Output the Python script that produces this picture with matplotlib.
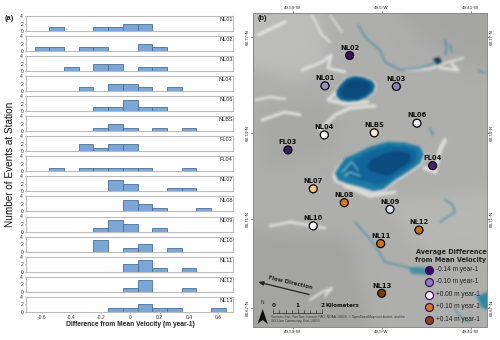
import numpy as np
import matplotlib
matplotlib.use('Agg')
import matplotlib.pyplot as plt
from matplotlib.patches import Polygon

plt.rcParams['font.family'] = ['Liberation Sans', 'DejaVu Sans']

W, H = 500, 340

# histogram data: station -> {bin centre: number of events}
stations_hist = ['NL01', 'NL02', 'NL03', 'NL04', 'NL06', 'NLBS', 'FL03', 'FL04',
                 'NL07', 'NL08', 'NL09', 'NL10', 'NL11', 'NL12', 'NL13']
bins = [-0.6, -0.5, -0.4, -0.3, -0.2, -0.1, 0.0, 0.1, 0.2, 0.3, 0.4, 0.5, 0.6]
nl01 = [0, 1, 0, 0, 1, 1, 2, 2, 0, 0, 0, 0, 0]
nl02 = [1, 1, 0, 1, 1, 0, 0, 2, 1, 0, 0, 0, 0]
nl03 = [0, 0, 1, 0, 2, 2, 0, 1, 1, 0, 0, 0, 0]
nl04 = [0, 0, 0, 1, 0, 2, 2, 1, 0, 1, 0, 0, 0]
nl06 = [0, 0, 0, 0, 1, 1, 3, 1, 1, 0, 0, 0, 0]
nlbs = [0, 0, 0, 0, 1, 2, 1, 0, 1, 0, 1, 0, 0]
fl03 = [0, 0, 0, 2, 1, 2, 2, 0, 0, 0, 0, 0, 0]
fl04 = [0, 1, 0, 1, 1, 1, 1, 1, 0, 0, 1, 0, 0]
nl07 = [0, 0, 0, 0, 0, 3, 2, 0, 0, 1, 1, 0, 0]
nl08 = [0, 0, 0, 0, 0, 0, 3, 2, 1, 0, 0, 1, 0]
nl09 = [0, 0, 0, 0, 1, 3, 2, 0, 1, 0, 0, 0, 0]
nl10 = [0, 0, 0, 0, 3, 0, 1, 2, 0, 1, 0, 0, 0]
nl11 = [0, 0, 0, 0, 0, 0, 2, 3, 1, 0, 1, 0, 0]
nl12 = [0, 0, 0, 0, 0, 0, 1, 3, 0, 0, 1, 0, 0]
nl13 = [0, 0, 0, 0, 0, 1, 1, 2, 1, 1, 0, 0, 1]
counts = [nl01, nl02, nl03, nl04, nl06, nlbs, fl03, fl04, nl07, nl08, nl09, nl10, nl11, nl12, nl13]
x_ticks = [-0.6, -0.4, -0.2, 0, 0.2, 0.4, 0.6]
x_labels = ['-0.6', '-0.4', '-0.2', '0', '0.2', '0.4', '0.6']

# map stations
map_names = ['NL02', 'NL01', 'NL03', 'NL06', 'NLBS', 'NL04', 'FL03', 'FL04',
             'NL07', 'NL08', 'NL09', 'NL10', 'NL12', 'NL11', 'NL13']
map_lon = [-49.5324, -49.5573, -49.4852, -49.4643, -49.5075, -49.558, -49.5948, -49.4484,
           -49.5692, -49.5378, -49.4916, -49.5692, -49.4623, -49.501, -49.5]
map_lat = [68.7639, 68.7538, 68.7536, 68.7414, 68.7382, 68.7375, 68.7325, 68.7273,
           68.7196, 68.715, 68.7128, 68.7073, 68.7059, 68.7014, 68.6849]
map_colors = ['#3d0f5c', '#9a8fc4', '#8d82bb', '#eef0f8', '#fdeccf', '#ffffff', '#3b1a66', '#4f1f80',
              '#fdc67e', '#d67a1c', '#dcdff0', '#f6f6fa', '#c96f14', '#cf7515', '#7f3b08']
lon_ticks = [-49.59, -49.5, -49.41]
lon_labels = ['49.59°W', '49.5°W', '49.41°W']
lat_ticks = [68.77, 68.7381, 68.7096, 68.68]
lat_labels = ['68.77°N', '68.74°N', '68.71°N', '68.67°N']

legend_labels = ['-0.14 m year-1', '-0.10 m year-1', '+0.00 m year-1', '+0.10 m year-1', '+0.14 m year-1']
legend_colors = ['#3d0a66', '#8d7fc0', '#ffffff', '#d67a1c', '#8a4510']

BOX = (253, 13, 487, 327)


def axes_px(x0, y0, x1, y1):
    # axes from pixel box, y measured from the top
    return fig.add_axes([x0 / W, 1 - y1 / H, (x1 - x0) / W, (y1 - y0) / H])


def blur(img, r):
    # box blur run twice along both axes
    kernel = np.ones(2 * r + 1) / (2 * r + 1)
    out = np.pad(img.astype(float), ((r * 2, r * 2), (r * 2, r * 2), (0, 0)), mode='edge')
    for _ in range(2):
        out = np.apply_along_axis(lambda v: np.convolve(v, kernel, mode='same'), 0, out)
        out = np.apply_along_axis(lambda v: np.convolve(v, kernel, mode='same'), 1, out)
    return out[r * 2:-r * 2, r * 2:-r * 2]


def layer(draw, face):
    # draw one layer off screen at the size of the map and return it as an array
    w, h = BOX[2] - BOX[0], BOX[3] - BOX[1]
    f = plt.figure(figsize=(w / 100, h / 100), dpi=100)
    a = f.add_axes([0, 0, 1, 1])
    a.set_xlim(BOX[0], BOX[2])
    a.set_ylim(BOX[3], BOX[1])
    a.axis('off')
    f.patch.set_facecolor(face)
    f.patch.set_alpha(1 if face != 'none' else 0)
    draw(a)
    f.canvas.draw()
    arr = np.asarray(f.canvas.buffer_rgba()).astype(float)
    plt.close(f)
    return arr


def scaled(pts, k, dx=0, dy=0):
    p = np.array(pts)
    c = p.mean(axis=0)
    return (p - c) * k + c + [dx, dy]


def draw_shades(a):
    shades = [
        ([(253, 13), (320, 13), (330, 60), (300, 80), (253, 70)], '#bcbcba'),
        ([(400, 13), (487, 13), (487, 70), (450, 60), (420, 40)], '#a6a6a4'),
        ([(253, 230), (350, 240), (370, 327), (253, 327)], '#a4a4a2'),
        ([(380, 200), (487, 190), (487, 260), (420, 250)], '#b6b6b4'),
        ([(260, 110), (330, 100), (335, 150), (265, 170)], '#a8a8a6'),
    ]
    for pts, col in shades:
        a.add_patch(Polygon(pts, closed=True, color=col, lw=0))


def draw_marks(a):
    # pale melt streaks
    streaks = [
        ([(258, 35), (268, 30), (285, 22)], 2.6),
        ([(312, 15), (322, 35), (330, 42)], 1.6),
        ([(330, 15), (342, 32)], 1.3),
        ([(302, 70), (322, 62), (331, 55), (328, 68), (345, 72)], 2.2),
        ([(255, 100), (270, 97), (285, 99)], 1.8),
        ([(262, 120), (285, 112), (300, 115)], 2.2),
        ([(320, 130), (335, 115), (350, 108), (375, 106)], 2.4),
        ([(335, 93), (328, 100), (345, 104), (368, 102)], 2.4),
        ([(405, 70), (430, 69), (445, 63), (463, 58)], 1.6),
        ([(440, 68), (458, 70), (452, 64)], 2.0),
        ([(425, 168), (435, 172), (440, 150), (445, 140)], 3.0),
        ([(270, 226), (290, 222), (325, 228)], 2.0),
        ([(310, 300), (322, 292), (332, 288), (325, 296)], 1.6),
        ([(345, 186), (370, 196), (395, 192)], 2.4),
    ]
    for pts, lw in streaks:
        xs, ys = zip(*pts)
        a.plot(xs, ys, color='#dededb', lw=lw, solid_capstyle='round')
    # thin blue melt channels
    channels = [
        [(358, 25), (366, 38), (380, 50), (385, 62), (400, 70), (420, 68), (437, 62)],
        [(445, 40), (447, 48), (445, 55)],
        [(450, 45), (452, 52)],
        [(478, 70), (484, 73)],
        [(430, 128), (433, 135)],
        [(445, 200), (452, 204), (455, 212), (440, 222)],
        [(355, 222), (375, 245), (385, 262), (410, 268), (425, 272)],
        [(475, 295), (483, 305), (487, 300)],
        [(455, 310), (462, 318), (470, 322)],
    ]
    for pts in channels:
        xs, ys = zip(*pts)
        a.plot(xs, ys, color='#3f8ba2', lw=0.9)
    a.add_patch(Polygon([(433, 59), (439, 57), (442, 62), (437, 65)], color='#0f3550', lw=0))
    a.add_patch(Polygon([(478, 296), (487, 292), (487, 310), (480, 306)], color='#2f86a0', lw=0))
    a.add_patch(Polygon([(408, 267), (425, 267), (428, 275), (412, 274)], color='#4d94a6', lw=0))

    # lakes: halo, body, deep core
    lake1 = [(335, 93.3), (340, 85), (346.7, 78.3), (355, 76), (363.3, 77.3), (371.7, 80.7), (375, 85),
             (373.3, 91.7), (366.7, 97.3), (358.3, 100.7), (348.3, 101.7), (340, 100)]
    lake2 = [(335, 173.3), (340, 165), (345, 158.3), (356.7, 153.3), (370, 146.7), (388.3, 141.7), (405, 142.7),
             (420, 146.7), (424, 154), (420, 163.3), (408.3, 171.7), (395, 180), (383.3, 189.3), (373.3, 191),
             (360, 186.7), (346.7, 183.3), (338.3, 180)]
    a.add_patch(Polygon(scaled(lake1, 1.1), closed=True, color='#d4d4d0', lw=0))
    a.add_patch(Polygon(scaled(lake2, 1.06, -1, 2), closed=True, color='#d4d4d0', lw=0))
    a.add_patch(Polygon(lake1, closed=True, color='#0c5f8c', lw=0))
    a.add_patch(Polygon(scaled(lake1, 0.75), closed=True, color='#0a4a7a', lw=0))
    a.add_patch(Polygon(lake2, closed=True, color='#1c7ba4', lw=0))
    a.add_patch(Polygon(scaled(lake2, 0.8, 3, -1), closed=True, color='#12659a', lw=0))
    a.add_patch(Polygon(scaled(lake2, 0.5, 11, -3), closed=True, color='#0b4b80', lw=0))
    a.plot([342, 352, 358], [172, 162, 170], color='#8fbdcd', lw=0.9)
    a.plot([345, 350, 360], [176, 172, 176], color='#b9d5de', lw=0.8)


fig = plt.figure(figsize=(W / 100, H / 100), dpi=100)

# (a) stacked histograms
for i, name in enumerate(stations_hist):
    top = 16 + i * 20.05
    ax = axes_px(26, top, 233, top + 15)
    ax.bar(bins, counts[i], width=0.1, color='#7aa6d8', edgecolor='#4f7096', linewidth=0.6)
    ax.set_xlim(-0.709, 0.70)
    ax.set_ylim(0, 4)
    ax.set_yticks([0, 2, 4])
    ax.tick_params(axis='y', labelsize=3.6, length=1, width=0.4, pad=1, colors='#333333')
    for s in ax.spines.values():
        s.set_color('#bcbcbc')
        s.set_linewidth(0.8)
    ax.text(0.998, 0.93, name, transform=ax.transAxes, ha='right', va='top', fontsize=4.0, color='#222222')
    if i == len(stations_hist) - 1:
        ax.set_xticks(x_ticks)
        ax.set_xticklabels(x_labels)
        ax.tick_params(axis='x', labelsize=3.6, length=1, width=0.4, pad=1.5, colors='#333333')
    else:
        ax.set_xticks([])

fig.text(5 / W, 1 - 19 / H, '(a)', fontsize=5.4, fontweight='bold', ha='left', va='center', color='#222222')
fig.text(10 / W, 1 - 164 / H, 'Number of Events at Station', rotation=90, fontsize=7.2,
         ha='center', va='center', color='#111111')
fig.text(130 / W, 1 - 324 / H, 'Difference from Mean Velocity (m year-1)', fontsize=4.8, fontweight='bold',
         ha='center', va='center', color='#222222')

# (b) imagery backdrop, built off screen and softened
base = blur(layer(draw_shades, '#aeaeac')[:, :, :3], 8)
marks = layer(draw_marks, 'none')
marks[:, :, :3] *= marks[:, :, 3:] / 255.0  # premultiply so the blur keeps colours clean
marks = blur(marks, 1)
rgb = marks[:, :, :3] + base * (1 - marks[:, :, 3:] / 255.0)
bg = axes_px(*BOX)
bg.imshow(np.clip(rgb, 0, 255).astype(np.uint8), aspect='auto', interpolation='nearest')
bg.axis('off')

# (b) station map on lon/lat axes
ax = axes_px(*BOX)
ax.patch.set_alpha(0)
ax.set_xlim(-49.6301, -49.3935)
ax.set_ylim(68.6737, 68.778)
ax.set_xticks(lon_ticks)
ax.set_xticklabels(lon_labels)
ax.set_yticks(lat_ticks)
ax.set_yticklabels(lat_labels, va='center')
ax.tick_params(axis='both', top=True, right=True, labeltop=True, labelright=True,
               labelsize=3.2, length=1.5, width=0.4, pad=0.8, colors='#222222')
ax.tick_params(axis='y', labelrotation=90)
for s in ax.spines.values():
    s.set_color('#8a8a8a')
    s.set_linewidth(0.7)
ax.scatter(map_lon, map_lat, s=33, c=map_colors, edgecolors='black', linewidths=0.9, zorder=10)
for name, lon, lat in zip(map_names, map_lon, map_lat):
    ax.annotate(name, (lon, lat), xytext=(0, 3.4), textcoords='offset points', ha='center', va='bottom',
                fontsize=4.9, fontweight='bold', family='DejaVu Sans', color='#111111', zorder=11)

# annotations, in figure pixels
over = axes_px(*BOX)
over.set_xlim(BOX[0], BOX[2])
over.set_ylim(BOX[3], BOX[1])
over.axis('off')
over.text(258, 19, '(b)', fontsize=5.4, fontweight='bold', ha='left', va='center', color='#222222')

# flow arrow
over.annotate('', xy=(258, 282), xytext=(309, 294.5),
              arrowprops=dict(arrowstyle='-|>,head_width=0.12,head_length=0.3', color='#222222', lw=0.9,
                              shrinkA=0, shrinkB=0))
over.text(290, 282.5, 'Flow Direction', rotation=-13, fontsize=4.0, ha='center', va='center',
          fontweight='bold', family='DejaVu Sans', color='#222222')

# scale bar
over.plot([273.3, 322.3], [313, 313], color='#222222', lw=0.5)
for j, xp in enumerate(np.linspace(273.3, 322.3, 9)):
    over.plot([xp, xp], [313, 310.5 if j % 4 else 309.5], color='#222222', lw=0.4)
for xp, t in zip([273.3, 297.8, 322.3], ['0', '1', '2']):
    over.text(xp, 305.5, t, fontsize=4.2, fontweight='bold', ha='center', va='center', family='DejaVu Sans',
              color='#111111')
over.text(325, 305.5, 'Kilometers', fontsize=4.0, fontweight='bold', ha='left', va='center',
          family='DejaVu Sans', color='#111111')
over.text(271, 317, 'Sources: Esri, TomTom, Garmin, FAO, NOAA, USGS, © OpenStreetMap contributors, and the',
          fontsize=2.3, ha='left', va='center', color='#333333')
over.text(271, 321, 'GIS User Community, Esri, USGS', fontsize=2.3, ha='left', va='center', color='#333333')

# north arrow
over.text(262.7, 303, 'N', fontsize=3.4, ha='center', va='center', color='#333333')
over.add_patch(Polygon([(262.7, 309), (257.5, 324), (262.7, 320), (267.8, 324)], closed=True,
                       color='#111111', lw=0))

# legend
over.text(451, 252, 'Average Difference', fontsize=4.7, fontweight='bold', ha='center', va='center',
          family='DejaVu Sans', color='#222222')
over.text(451, 260, 'from Mean Velocity', fontsize=4.7, fontweight='bold', ha='center', va='center',
          family='DejaVu Sans', color='#222222')
legend_y = [270, 282, 295, 307, 320]
for yp, lab, col in zip(legend_y, legend_labels, legend_colors):
    over.scatter([429], [yp], s=33, c=col, edgecolors='#3a1060', linewidths=0.9, zorder=5)
    over.text(436, yp, lab, fontsize=4.7, ha='left', va='center', color='#222222', zorder=5)

fig.savefig('out.png', dpi=100)
